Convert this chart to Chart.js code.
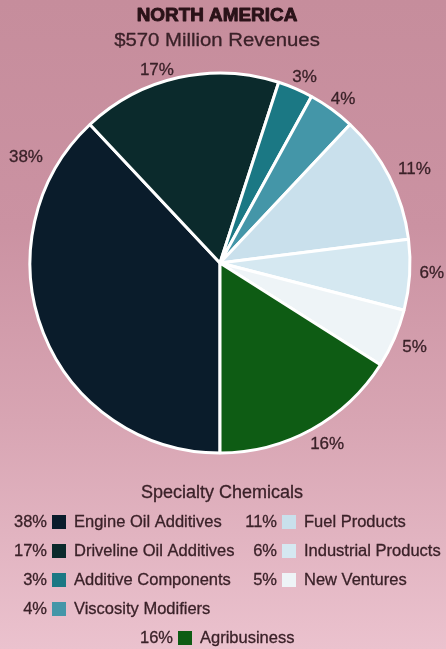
<!DOCTYPE html>
<html>
<head>
<meta charset="utf-8">
<script src="https://cdn.jsdelivr.net/npm/chart.js@4/dist/chart.umd.min.js"></script>
<style>
  html, body { margin: 0; padding: 0; }
  body {
    width: 446px; height: 649px; overflow: hidden;
    background: linear-gradient(to bottom, #c68d9c 0%, #cb92a2 35%, #d8a5b3 65%, #ebc2ce 100%);
  }
  #wrap { position: absolute; left: 0; top: 0; width: 446px; height: 649px; }
</style>
</head>
<body>
<div id="wrap"><canvas id="pie" width="446" height="649"></canvas></div>
<script>
// Revenue split for North America
const chartTitle = 'NORTH AMERICA';
const chartSubtitle = '$570 Million Revenues';
const groupTitle = 'Specialty Chemicals';
const categories = [
  'Engine Oil Additives',
  'Driveline Oil Additives',
  'Additive Components',
  'Viscosity Modifiers',
  'Fuel Products',
  'Industrial Products',
  'New Ventures',
  'Agribusiness'
];
const shares = [38, 17, 3, 4, 11, 6, 5, 16];
const sliceColors = ['#0a1c2b', '#0b2a2c', '#1b7884', '#4496a8', '#c9e0ec', '#d5e8f1', '#eef4f7', '#0e5c14'];

// where each percentage sits: fraction along its slice, and gap outside the rim
const labelAlong = [0.867, 0.41, 0.6, 0.56, 0.53, 0.46, 0.5, 0.47];
const labelGap = [31, 13, 14, 15, 26, 22, 22, 21];

const FONT = '"Liberation Sans", Arial, Helvetica, sans-serif';
const TEXT = '#3a2128';

const pct = v => v + '%';

function heavyText(ctx, s, x, y, w) {
  ctx.lineWidth = w;
  ctx.strokeStyle = ctx.fillStyle;
  ctx.strokeText(s, x, y);
  ctx.fillText(s, x, y);
}

const textPlugin = {
  id: 'texts',
  afterDraw(chart) {
    const ctx = chart.ctx;
    ctx.save();
    ctx.lineJoin = 'round';

    // heading
    ctx.fillStyle = '#2a1218';
    ctx.textAlign = 'center';
    ctx.textBaseline = 'middle';
    ctx.font = 'bold 18px ' + FONT;
    ctx.save();
    ctx.translate(217, 16);
    ctx.scale(1.05, 1);
    heavyText(ctx, chartTitle, 0, 0, 0.9);
    ctx.restore();
    ctx.fillStyle = TEXT;
    ctx.font = '19px ' + FONT;
    ctx.save();
    ctx.translate(217, 41);
    ctx.scale(1.07, 1);
    heavyText(ctx, chartSubtitle, 0, 0, 0.3);
    ctx.restore();

    // percentage labels around the pie
    const meta = chart.getDatasetMeta(0);
    ctx.font = '17px ' + FONT;
    meta.data.forEach((arc, i) => {
      const p = arc.getProps(['x', 'y', 'startAngle', 'endAngle', 'outerRadius'], true);
      const a = p.startAngle + (p.endAngle - p.startAngle) * labelAlong[i];
      const d = p.outerRadius + labelGap[i];
      heavyText(ctx, pct(shares[i]), p.x + Math.cos(a) * d, p.y + Math.sin(a) * d, 0.3);
    });

    // legend
    ctx.font = '18px ' + FONT;
    heavyText(ctx, groupTitle, 222, 493, 0.3);
    ctx.font = '16.5px ' + FONT;
    const drawItem = (i, pctRight, rowY) => {
      ctx.textAlign = 'right';
      ctx.fillStyle = TEXT;
      heavyText(ctx, pct(shares[i]), pctRight, rowY, 0.3);
      ctx.fillStyle = sliceColors[i];
      ctx.fillRect(pctRight + 5, rowY - 7, 14, 14);
      ctx.textAlign = 'left';
      ctx.fillStyle = TEXT;
      heavyText(ctx, categories[i], pctRight + 27, rowY, 0.3);
    };
    const rowStep = 29;
    [0, 1, 2, 3].forEach((i, r) => drawItem(i, 47, 522 + r * rowStep));
    [4, 5, 6].forEach((i, r) => drawItem(i, 277, 522 + r * rowStep));
    drawItem(7, 173, 522 + 4 * rowStep);

    ctx.restore();
  }
};

new Chart(document.getElementById('pie'), {
  type: 'pie',
  data: {
    labels: categories,
    datasets: [{
      data: shares,
      backgroundColor: sliceColors,
      borderColor: '#ffffff',
      borderWidth: 3,
      radius: 190
    }]
  },
  options: {
    responsive: false,
    animation: false,
    rotation: 180,
    layout: { padding: { left: 30, right: 36, top: 73, bottom: 196 } },
    plugins: {
      legend: { display: false },
      tooltip: { enabled: false }
    }
  },
  plugins: [textPlugin]
});
</script>
</body>
</html>
